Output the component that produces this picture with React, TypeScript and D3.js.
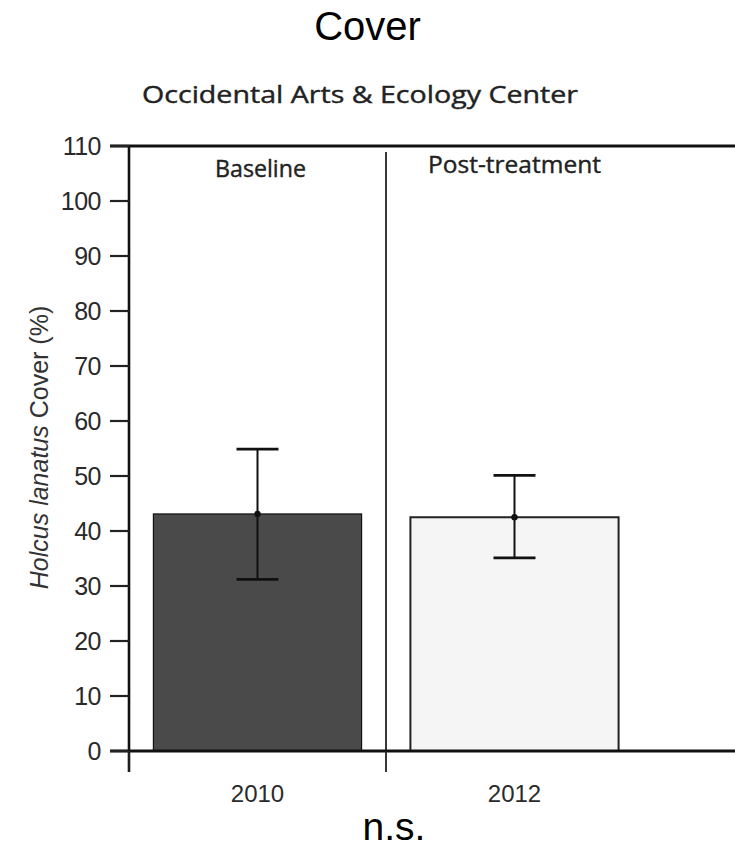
import React from "react";
import * as d3 from "d3";

const years = ["2010", "2012"];
const phases = ["Baseline", "Post-treatment"];
const means = [43.1, 42.5];
const upper = [54.9, 50.1];
const lower = [31.2, 35.1];
const fills = ["#4a4a4a", "#f5f5f5"];
const yTicks = [0, 10, 20, 30, 40, 50, 60, 70, 80, 90, 100, 110];

const W = 735;
const H = 849;
const left = 129;
const panelRight = 643;
const top = 146;
const bottom = 751;

export default function App() {
  const y = d3.scaleLinear().domain([0, 110]).range([bottom, top]);
  const x = d3
    .scaleBand<string>()
    .domain(years)
    .range([left, panelRight])
    .paddingInner(0.19)
    .paddingOuter(0.095);
  const step = x.step();
  const bw = x.bandwidth();
  const capW = 42;
  const tickFont = "Liberation Sans, Arial, Helvetica, sans-serif";
  const humanist = "'Open Sans', sans-serif";
  const phaseBaselines = [177, 173];
  const phaseWidths = [91, 173];

  return (
    <svg
      width={W}
      height={H}
      style={{ position: "absolute", left: 0, top: 0, background: "#fff" }}
    >
      <text x={367.5} y={40} textAnchor="middle" fontFamily={tickFont} fontSize={40} fill="#000">
        Cover
      </text>
      <text
        x={360}
        y={103}
        textAnchor="middle"
        fontFamily={humanist}
        fontSize={23}
        fill="#222"
        stroke="#222"
        strokeWidth={0.4}
        textLength={436}
        lengthAdjust="spacingAndGlyphs"
      >
        Occidental Arts &amp; Ecology Center
      </text>

      {/* bars */}
      {years.map((yr, i) => (
        <rect
          key={yr}
          x={x(yr)}
          y={y(means[i])}
          width={bw}
          height={y(0) - y(means[i])}
          fill={fills[i]}
          stroke={i === 0 ? "#111" : "#222"}
          strokeWidth={i === 0 ? 1.2 : 2}
        />
      ))}

      {/* error bars */}
      {years.map((yr, i) => {
        const cx = (x(yr) as number) + bw / 2;
        return (
          <g key={"e" + yr} stroke="#111" strokeWidth={2}>
            <line x1={cx} x2={cx} y1={y(upper[i])} y2={y(lower[i])} />
            <line x1={cx - capW / 2} x2={cx + capW / 2} y1={y(upper[i])} y2={y(upper[i])} strokeWidth={2.8} />
            <line x1={cx - capW / 2} x2={cx + capW / 2} y1={y(lower[i])} y2={y(lower[i])} strokeWidth={2.8} />
            <circle cx={cx} cy={y(means[i])} r={3.2} fill="#111" stroke="none" />
          </g>
        );
      })}

      {/* panel divider */}
      <line x1={left + step} x2={left + step} y1={152} y2={bottom} stroke="#222" strokeWidth={1.8} />

      {/* phase labels */}
      {phases.map((p, i) => (
        <text
          key={p}
          x={(x(years[i]) as number) + bw / 2 + (i === 0 ? 3 : 0)}
          y={phaseBaselines[i]}
          textAnchor="middle"
          fontFamily={humanist}
          fontSize={24}
          fill="#222"
          stroke="#222"
          strokeWidth={0.4}
          textLength={phaseWidths[i]}
          lengthAdjust="spacingAndGlyphs"
        >
          {p}
        </text>
      ))}

      {/* frame */}
      <line x1={110} x2={W} y1={top} y2={top} stroke="#111" strokeWidth={2.8} />
      <line x1={110} x2={W} y1={bottom} y2={bottom} stroke="#111" strokeWidth={3.2} />
      <line x1={left} x2={left} y1={top - 1} y2={772} stroke="#111" strokeWidth={2.6} />

      {/* y ticks */}
      {yTicks.map((t) => (
        <g key={t}>
          <line x1={110} x2={left} y1={y(t)} y2={y(t)} stroke="#222" strokeWidth={2.2} />
          <text
            x={101}
            y={y(t)}
            dy="0.36em"
            textAnchor="end"
            fontFamily={tickFont}
            fontSize={25}
            fill="#2a2a2a"
            letterSpacing={-0.5}
          >
            {t}
          </text>
        </g>
      ))}

      {/* x ticks (panel boundaries) */}
      {[left, left + step].map((tx) => (
        <line key={tx} x1={tx} x2={tx} y1={bottom} y2={772} stroke="#222" strokeWidth={1.8} />
      ))}
      {years.map((yr) => (
        <text
          key={"l" + yr}
          x={(x(yr) as number) + bw / 2}
          y={802}
          textAnchor="middle"
          fontFamily={tickFont}
          fontSize={24}
          fill="#2a2a2a"
        >
          {yr}
        </text>
      ))}

      {/* y axis label */}
      <text
        transform={`translate(48, 447.5) rotate(-90)`}
        textAnchor="middle"
        fontFamily={tickFont}
        fontSize={25}
        fill="#333"
      >
        <tspan fontStyle="italic">Holcus lanatus</tspan> Cover (%)
      </text>

      <text x={394} y={840} textAnchor="middle" fontFamily={tickFont} fontSize={39} fill="#000">
        n.s.
      </text>
    </svg>
  );
}
